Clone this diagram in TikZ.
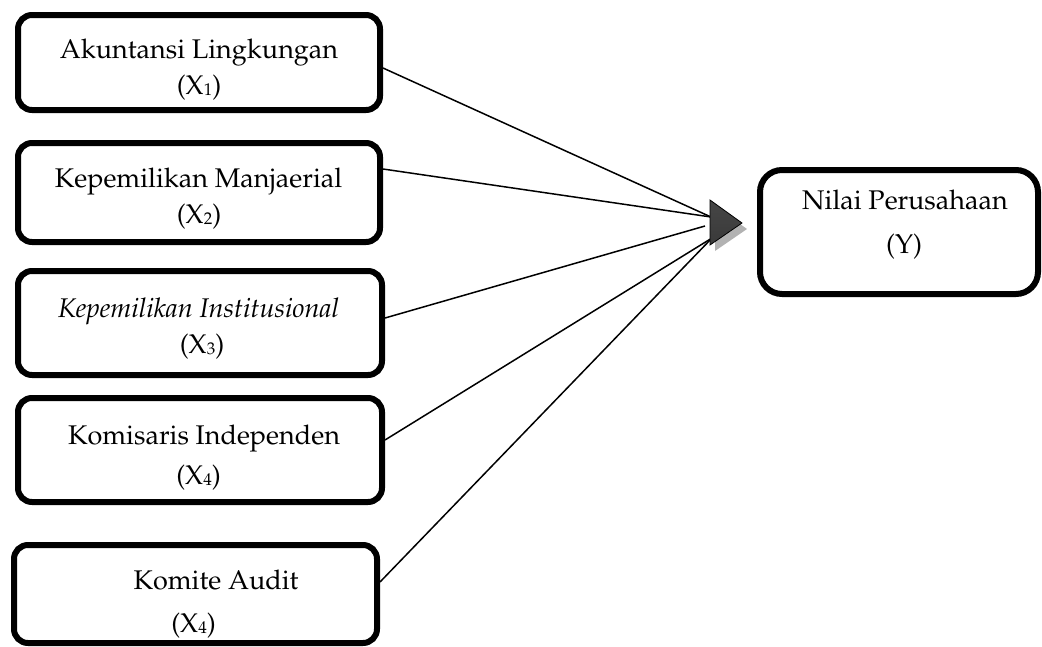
\documentclass[tikz,border=0pt]{standalone}
\usepackage[T1]{fontenc}
\renewcommand{\rmdefault}{ppl}
\newcommand{\vsub}[1]{\raisebox{-0.12ex}{\fontsize{17}{17}\selectfont #1}}

\tikzset{
    varbox/.style={draw, line width=6pt, rounded corners=14pt},
    vtext/.style={anchor=base, inner sep=0pt, font=\fontsize{27}{30}\selectfont},
    link/.style={line width=1.5pt},
}

\begin{document}
\begin{tikzpicture}[x=1pt,y=-1pt]
            \useasboundingbox (0,0) rectangle (1042,646);

            % variable boxes
            \node[varbox, minimum width=362pt, minimum height=95pt] (b1) at (199,62.5) {};
            \node[varbox, minimum width=362pt, minimum height=99pt] (b2) at (199,192.5) {};
            \node[varbox, minimum width=364pt, minimum height=104pt] (b3) at (200,323) {};
            \node[varbox, minimum width=364pt, minimum height=104pt] (b4) at (200,450) {};
            \node[varbox, minimum width=363pt, minimum height=98pt] (b5) at (195.5,594) {};
            \node[varbox, rounded corners=22pt, minimum width=278pt, minimum height=124pt] (by) at (899,232) {};

            % labels
            \node[vtext] (t1) at (199,58) {Akuntansi Lingkungan};
            \node[vtext] (x1) at (199,94) {(X\vsub{1})};
            \node[vtext] (t2) at (198.5,187) {Kepemilikan Manjaerial};
            \node[vtext] (x2) at (199,223) {(X\vsub{2})};
            \node[vtext] (t3) at (198.5,317) {\itshape Kepemilikan Institusional};
            \node[vtext] (x3) at (202,353) {(X\vsub{3})};
            \node[vtext] (t4) at (204,444) {Komisaris Independen};
            \node[vtext] (x4) at (198.5,484) {(X\vsub{4})};
            \node[vtext] (t5) at (216,589) {Komite Audit};
            \node[vtext] (x5) at (193.5,632) {(X\vsub{4})};
            \node[vtext] (ty) at (905,209) {Nilai Perusahaan};
            \node[vtext] (xy) at (904,253) {(Y)};

            % converging lines
            \coordinate (hubA) at (711,217);
            \coordinate (hubB) at (705,226);
            \coordinate (hubC) at (712,238);
            \draw[link] ([yshift=-5.5pt]b1.east) -- (hubA);
            \draw[link] ([yshift=23.5pt]b2.east) -- (hubA);
            \draw[link] ([yshift=5pt]b3.east) -- (hubB);
            \draw[link] ([yshift=10pt]b4.east) -- (hubC);
            \draw[link] ([yshift=12pt]b5.east) -- (hubC);

            % arrowhead
            \coordinate (headT) at (710,200);
            \coordinate (headB) at (710,245);
            \coordinate (tip) at (742,223);
            \fill[gray!60] ([shift={(5,6)}]headT) -- ([shift={(5,6)}]tip) -- ([shift={(5,6)}]headB) -- cycle;
            \shade[top color=gray!55!black, middle color=black, bottom color=gray!45!black,
                draw=black, line width=0.8pt] (headT) -- (tip) -- (headB) -- cycle;
        \end{tikzpicture}
\end{document}
